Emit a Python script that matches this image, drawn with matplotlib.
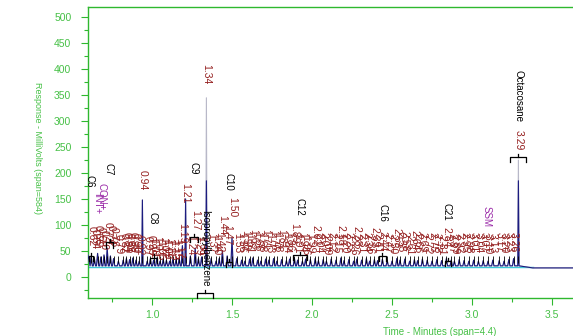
import numpy as np
import matplotlib.pyplot as plt

plt.rcParams['font.family'] = ['Liberation Sans', 'DejaVu Sans']

# peaks: retention time (min), trace height (mV), top of the rotated label (mV)
peak_rt = [0.62, 0.64, 0.66, 0.68, 0.70, 0.72, 0.74, 0.76, 0.79, 0.82, 0.84, 0.86,
           0.88, 0.90, 0.92, 0.94, 0.97, 0.99, 1.01, 1.03, 1.05, 1.07, 1.09, 1.11,
           1.13, 1.15, 1.17, 1.19, 1.21, 1.24, 1.27, 1.29, 1.31, 1.34, 1.37, 1.40,
           1.42, 1.44, 1.47, 1.50, 1.53,
           1.56, 1.58, 1.61, 1.63, 1.66, 1.68, 1.71, 1.73, 1.76, 1.78, 1.81, 1.84,
           1.86, 1.89, 1.91, 1.94, 1.96, 1.99, 2.02, 2.04, 2.07, 2.09, 2.12, 2.15,
           2.18, 2.20, 2.23, 2.26, 2.28, 2.31, 2.34, 2.36, 2.39, 2.41, 2.44, 2.47,
           2.50, 2.53, 2.55, 2.58, 2.61, 2.64, 2.66, 2.69, 2.72, 2.75, 2.78, 2.81,
           2.84, 2.87, 2.89, 2.92, 2.95, 2.98, 3.01, 3.04, 3.07, 3.10, 3.13, 3.17,
           3.20, 3.23, 3.26, 3.29]
peak_ht = [40, 35, 45, 38, 42, 55, 40, 35, 30, 32, 35, 33,
           36, 32, 30, 148, 30, 34, 32, 36, 30, 34, 32, 30,
           34, 33, 36, 60, 150, 40, 55, 35, 38, 345, 35, 30,
           35, 50, 40, 75, 35,
           32, 30, 34, 36, 32, 30, 34, 32, 35, 30, 33, 31,
           34, 36, 32, 30, 34, 33, 35, 31, 33, 30, 34, 32,
           36, 31, 33, 30, 34, 32, 35, 30, 33, 31, 34, 32,
           30, 35, 32, 34, 30, 33, 31, 34, 32, 30, 33, 31,
           35, 32, 30, 33, 31, 30, 32, 30, 31, 30, 32, 31,
           30, 33, 35, 225]
label_top = [98, 92, 100, 95, 90, 106, 100, 96, 82, 84, 86, 84,
             86, 84, 80, 206, 78, 80, 74, 78, 70, 76, 72, 74,
             70, 72, 74, 104, 181, 80, 129, 80, 78, 411, 84, 80,
             86, 119, 100, 154, 84,
             86, 90, 84, 92, 88, 86, 92, 84, 90, 86, 92, 84,
             88, 104, 84, 86, 80, 84, 100, 84, 86, 80, 86, 84,
             100, 84, 86, 80, 98, 84, 86, 82, 96, 84, 88, 84,
             82, 94, 86, 88, 80, 90, 84, 86, 82, 86, 84, 80,
             96, 84, 82, 84, 86, 84, 86, 84, 86, 82, 84, 86,
             84, 86, 86, 283]

# named compounds (black), standards (purple)
names = ['C6', 'C7', 'C8', 'C9', 'C10', 'C12', 'C16', 'C21', 'Octacosane', 'Isopropylbenzene']
name_rt = [0.61, 0.73, 1.00, 1.26, 1.48, 1.92, 2.44, 2.84, 3.29, 1.33]
name_top = [196, 219, 125, 221, 200, 152, 140, 142, 398, 129]
std_names = ['INT+', 'CON+', 'SSM']
std_rt = [0.655, 0.687, 3.09]
std_top = [162, 181, 137]

# integration brackets
bracket_rt = [0.62, 0.735, 1.01, 1.26, 1.33, 1.48, 1.925, 2.44, 2.85, 3.29]
bracket_y = [40, 66, 37, 76, -31, 29, 42, 40, 30, 231]
bracket_hw = [0.012, 0.02, 0.02, 0.025, 0.05, 0.02, 0.045, 0.02, 0.02, 0.05]

base_level = 21
cyan_level = 18
cyan_end = 3.38
tail_level = 17

green = '#2fb82f'
green_txt = '#46c046'
red = '#952020'

fig = plt.figure(figsize=(5.73, 3.36), dpi=100)
# axis runs 0.6 .. 5.0 min (span 4.4); the picture is cut at ~3.62
ax = fig.add_axes([88 / 573, 1 - 298 / 336, 704 / 573, 291 / 336])
ax.set_xlim(0.6, 5.0)
ax.set_ylim(-41, 520)

# trace
t_pts, y_pts = [0.6], [42]
for rt, h in zip(peak_rt, peak_ht):
    w = 0.004 if h > 100 else 0.007
    t_pts += [rt - w, rt, rt + w]
    y_pts += [base_level, h, base_level]
t_pts += [cyan_end, 5.0]
y_pts += [tail_level, tail_level]
t_pts = np.array(t_pts)
y_pts = np.array(y_pts, dtype=float)

ax.plot([0.6, cyan_end], [cyan_level, cyan_level], color='#3cc8d8', lw=1.0, zorder=2)
ax.plot(t_pts, y_pts, color='#b8b8c8', lw=0.8, zorder=3)
ax.plot(t_pts, np.minimum(y_pts, 185), color='#1c1c80', lw=0.8, zorder=4)

# peak markers and labels
ax.vlines(peak_rt, 27, 40, color='black', lw=0.6, zorder=5)
for rt, top in zip(peak_rt, label_top):
    ax.text(rt, top, f'{rt:.2f}', rotation=270, ha='center', va='top',
            fontsize=7.5, color=red, zorder=6)

for nm, rt, top in zip(names, name_rt, name_top):
    ax.text(rt, top, nm, rotation=270, ha='center', va='top',
            fontsize=7, color='black', zorder=7)
for nm, rt, top in zip(std_names, std_rt, std_top):
    ax.text(rt, top, nm, rotation=270, ha='center', va='top',
            fontsize=7, color='#9a2aa8', zorder=7)

for rt, y, hw in zip(bracket_rt, bracket_y, bracket_hw):
    ax.plot([rt - hw, rt - hw, rt + hw, rt + hw], [y - 10, y, y, y - 10],
            color='black', lw=0.9, zorder=8, clip_on=False)
    ax.plot([rt, rt], [y, y + 6], color='black', lw=0.9, zorder=8, clip_on=False)

# axes styling (only ticks that fall inside the visible picture)
ax.set_yticks(np.arange(0, 501, 50))
ax.set_yticks(np.arange(-25, 520, 25), minor=True)
ax.set_xticks([1.0, 1.5, 2.0, 2.5, 3.0, 3.5])
ax.set_xticks([0.75, 1.25, 1.75, 2.25, 2.75, 3.25], minor=True)
ax.tick_params(axis='both', which='major', colors=green, labelcolor=green_txt,
               labelsize=7.5, length=5, width=0.8)
ax.tick_params(axis='y', which='major', pad=7)
ax.tick_params(axis='both', which='minor', colors=green, length=3, width=0.8)
for s in ax.spines.values():
    s.set_color(green)
    s.set_linewidth(1.0)

ax.set_ylabel('Response - MilliVolts (span=584)', rotation=270, fontsize=6.5,
              color=green_txt)
ax.yaxis.set_label_coords(-0.078, 0.515)
ax.set_xlabel('Time - Minutes (span=4.4)', fontsize=7, color=green_txt)
ax.xaxis.set_label_coords(0.5, -0.1)

fig.savefig('out.png', dpi=100)
